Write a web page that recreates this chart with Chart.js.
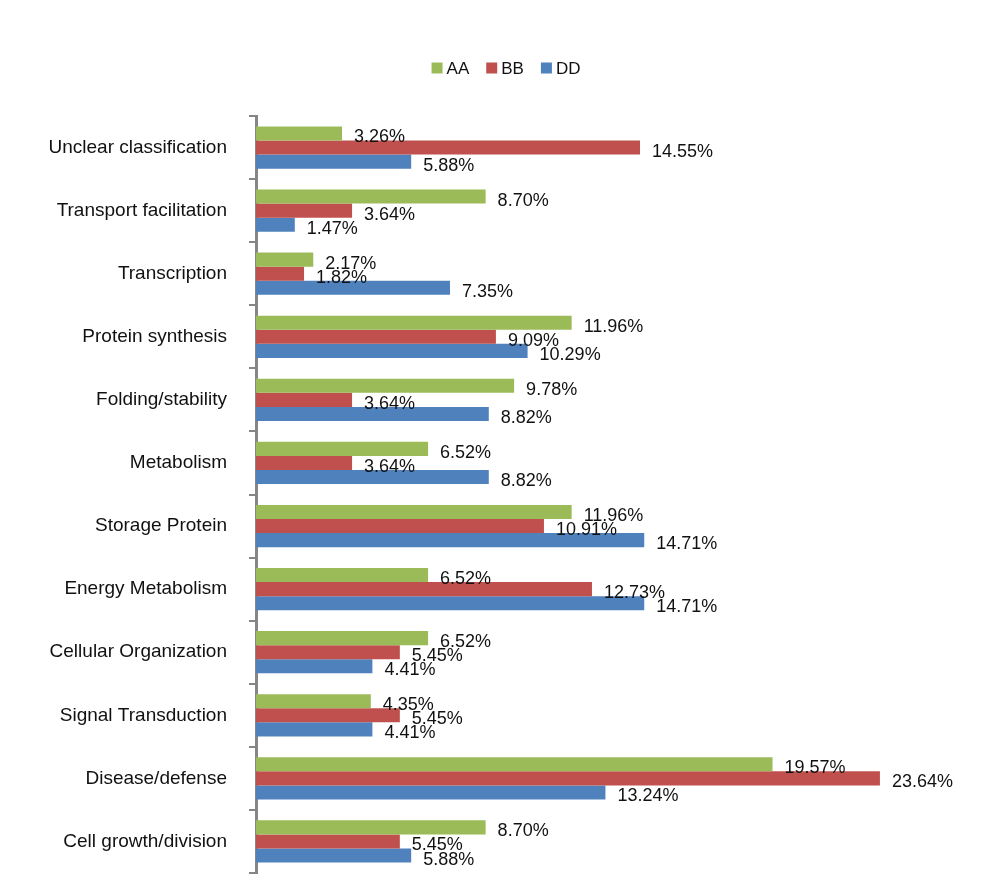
<!DOCTYPE html>
<html>
<head>
<meta charset="utf-8">
<script src="https://cdn.jsdelivr.net/npm/chart.js@4/dist/chart.umd.min.js"></script>
<style>
html,body{margin:0;padding:0;background:#fff;}
#wrap{width:995px;height:892px;}
</style>
</head>
<body>
<div id="wrap"><canvas id="c" width="995" height="892"></canvas></div>
<script>
const categories = ["Unclear classification","Transport facilitation","Transcription","Protein synthesis","Folding/stability","Metabolism","Storage Protein","Energy Metabolism","Cellular Organization","Signal Transduction","Disease/defense","Cell growth/division"];
const seriesNames = ["AA","BB","DD"];
const aaValues = [3.26, 8.70, 2.17, 11.96, 9.78, 6.52, 11.96, 6.52, 6.52, 4.35, 19.57, 8.70];
const bbValues = [14.55, 3.64, 1.82, 9.09, 3.64, 3.64, 10.91, 12.73, 5.45, 5.45, 23.64, 5.45];
const ddValues = [5.88, 1.47, 7.35, 10.29, 8.82, 8.82, 14.71, 14.71, 4.41, 4.41, 13.24, 5.88];
const colors = ["#9BBB59","#C0504D","#4F81BD"];

const FONT = "'Liberation Sans', Arial, sans-serif";

const labelPlugin = {
  id: 'barLabels',
  afterDatasetsDraw(chart) {
    const ctx = chart.ctx;
    ctx.save();
    ctx.font = "18px " + FONT;
    ctx.fillStyle = "#111";
    ctx.textAlign = "left";
    ctx.textBaseline = "middle";
    chart.data.datasets.forEach((ds, i) => {
      const meta = chart.getDatasetMeta(i);
      meta.data.forEach((bar, j) => {
        const v = ds.data[j];
        ctx.fillText(v.toFixed(2) + "%", bar.x + 12, bar.y + 4);
      });
    });
    ctx.restore();
  }
};

// Custom legend drawn from the dataset labels and colours
const customLegend = {
  id: 'customLegend',
  afterDraw(chart) {
    const ctx = chart.ctx;
    ctx.save();
    ctx.font = "17px " + FONT;
    ctx.textBaseline = "middle";
    ctx.textAlign = "left";
    const box = 11, gapText = 4, gapItem = 17, cy = 68, centerX = 506;
    const items = chart.data.datasets.map(ds => ({
      text: ds.label, color: ds.backgroundColor, w: ctx.measureText(ds.label).width
    }));
    let total = 0;
    items.forEach((it, i) => { total += box + gapText + it.w + (i < items.length - 1 ? gapItem : 0); });
    let x = centerX - total / 2;
    items.forEach(it => {
      ctx.fillStyle = it.color;
      ctx.fillRect(x, cy - box / 2, box, box);
      ctx.fillStyle = "#111";
      ctx.fillText(it.text, x + box + gapText, cy + 1);
      x += box + gapText + it.w + gapItem;
    });
    ctx.restore();
  }
};

new Chart(document.getElementById('c'), {
  type: 'bar',
  data: {
    labels: categories,
    datasets: [
      {label: seriesNames[0], data: aaValues, backgroundColor: colors[0]},
      {label: seriesNames[1], data: bbValues, backgroundColor: colors[1]},
      {label: seriesNames[2], data: ddValues, backgroundColor: colors[2]}
    ]
  },
  options: {
    indexAxis: 'y',
    responsive: false,
    animation: false,
    categoryPercentage: 0.67,
    barPercentage: 1.0,
    layout: {padding: {left: 16, right: 0, top: 116, bottom: 19}},
    plugins: {
      legend: {display: false},
      tooltip: {enabled: false}
    },
    scales: {
      x: {display: false, min: 0, max: 28},
      y: {
        afterFit(scale) { scale.width = 240; scale.paddingTop = 0; scale.paddingBottom = 0; },
        border: {display: true, color: '#868686', width: 3},
        grid: {drawOnChartArea: false, offset: true, tickLength: 7, color: '#868686', lineWidth: 2},
        ticks: {color: '#111', padding: 22, font: {size: 19, family: FONT}}
      }
    }
  },
  plugins: [labelPlugin, customLegend]
});
</script>
</body>
</html>
